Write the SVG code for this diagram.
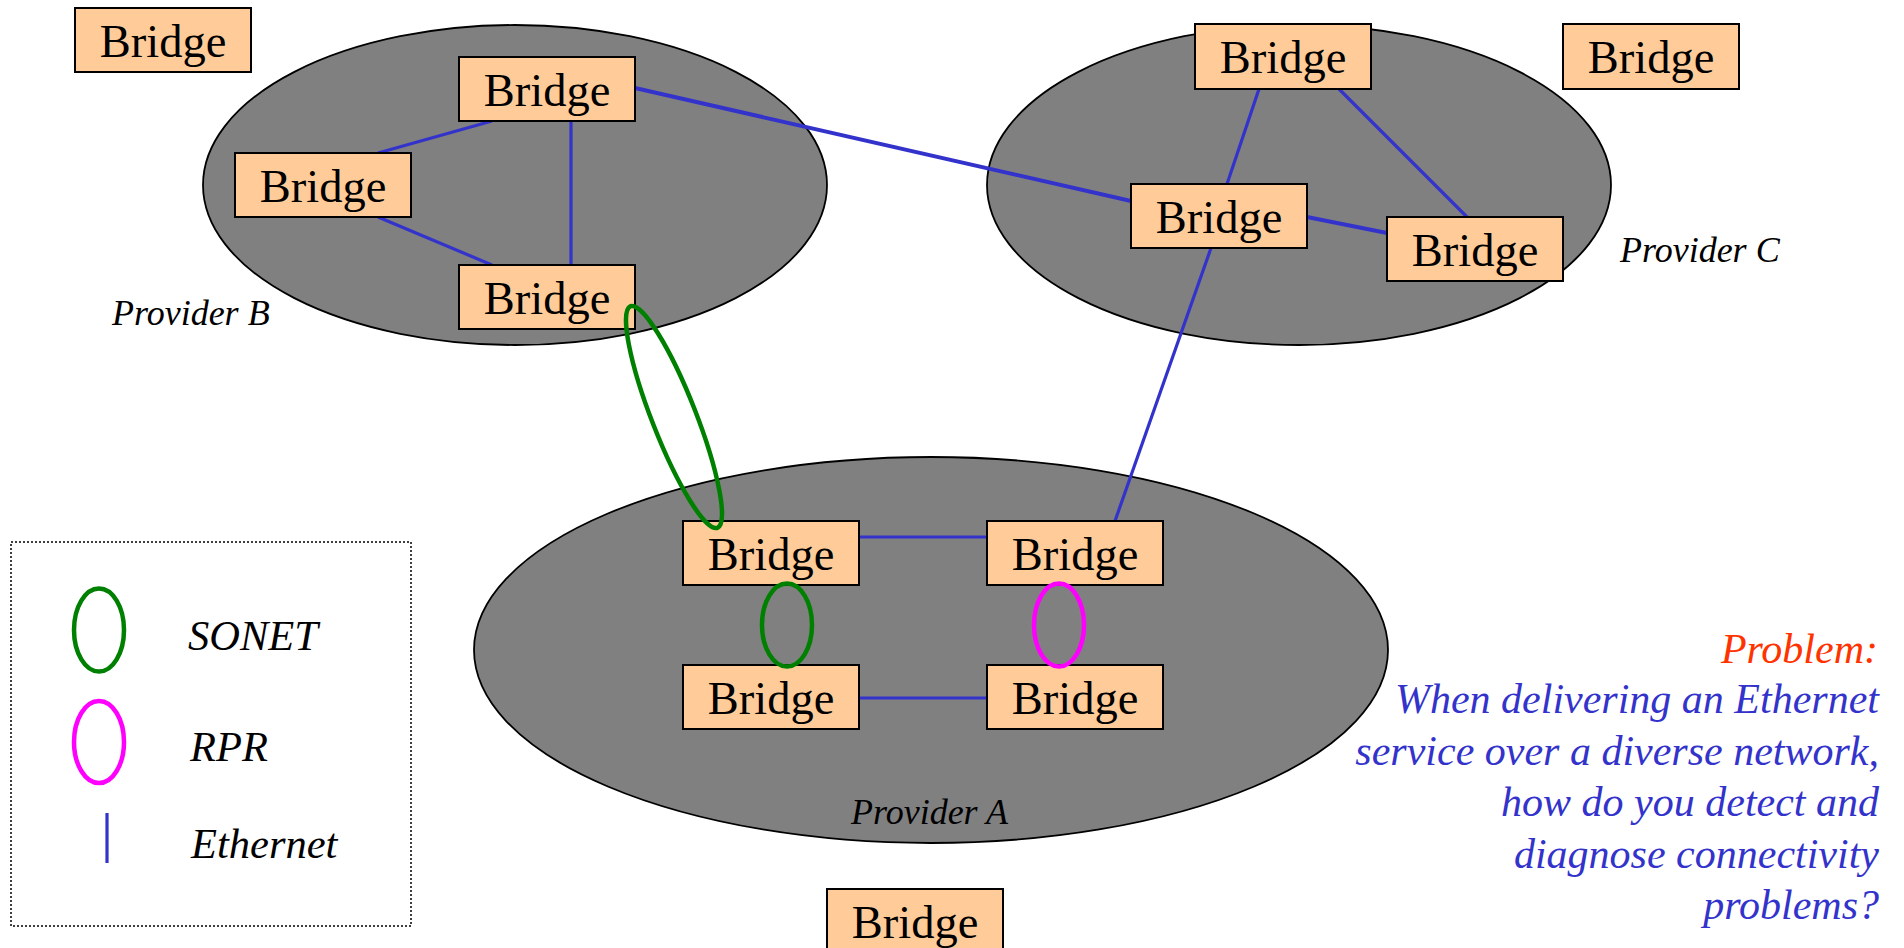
<svg xmlns="http://www.w3.org/2000/svg" width="1904" height="948" viewBox="0 0 1904 948">
<style>
.cloud{fill:#808080;stroke:#000;stroke-width:1.8}
.box{fill:#FFCC99;stroke:#000;stroke-width:2}
.bt{font-family:"Liberation Serif","Times New Roman",serif;font-size:46.5px;fill:#000;text-anchor:middle}
.plabel{font-family:"Liberation Serif","Times New Roman",serif;font-size:36px;font-style:italic;fill:#000}
.eth{stroke:#3333CC;stroke-width:3.2;fill:none}
.thick{stroke-width:4}
.sonet{stroke:#008000;stroke-width:4.5;fill:none}
.rpr{stroke:#FF00FF;stroke-width:4.5;fill:none}
.leg{font-family:"Liberation Serif","Times New Roman",serif;font-size:42.5px;font-style:italic;fill:#000}
.prob{font-family:"Liberation Serif","Times New Roman",serif;font-size:42px;font-style:italic;text-anchor:end}
</style>
<rect width="1904" height="948" fill="#fff"/>
<g id="provider-b"><ellipse class="cloud" cx="515" cy="185" rx="312" ry="160"/><text class="plabel" x="112" y="325">Provider B</text></g>
<g id="provider-c"><ellipse class="cloud" cx="1299" cy="185" rx="312" ry="160"/><text class="plabel" x="1620" y="262">Provider C</text></g>
<g id="provider-a"><ellipse class="cloud" cx="931" cy="650" rx="457" ry="193"/><text class="plabel" x="851" y="824">Provider A</text></g>
<g id="connectors">
<line class="eth thick" x1="635" y1="88" x2="1131" y2="201"/>
<line class="eth" x1="492" y1="121" x2="378" y2="153"/>
<line class="eth" x1="378" y1="217" x2="492" y2="265"/>
<line class="eth" x1="571" y1="121" x2="571" y2="265"/>
<line class="eth" x1="1259" y1="89" x2="1227" y2="184"/>
<line class="eth" x1="1339" y1="89" x2="1467" y2="217"/>
<line class="eth thick" x1="1307" y1="217" x2="1387" y2="233"/>
<line class="eth" x1="1211" y1="248" x2="1115" y2="521"/>
<line class="eth" x1="859" y1="537" x2="987" y2="537"/>
<line class="eth" x1="859" y1="698" x2="987" y2="698"/>
</g>
<g id="bridge-tl"><rect class="box" x="75" y="8" width="176" height="64"/><text class="bt" x="163" y="57">Bridge</text></g>
<g id="bridge-b1"><rect class="box" x="459" y="57" width="176" height="64"/><text class="bt" x="547" y="106">Bridge</text></g>
<g id="bridge-b2"><rect class="box" x="235" y="153" width="176" height="64"/><text class="bt" x="323" y="202">Bridge</text></g>
<g id="bridge-b3"><rect class="box" x="459" y="265" width="176" height="64"/><text class="bt" x="547" y="314">Bridge</text></g>
<g id="bridge-c1"><rect class="box" x="1195" y="24" width="176" height="65"/><text class="bt" x="1283" y="73">Bridge</text></g>
<g id="bridge-tr"><rect class="box" x="1563" y="24" width="176" height="65"/><text class="bt" x="1651" y="73">Bridge</text></g>
<g id="bridge-c2"><rect class="box" x="1131" y="184" width="176" height="64"/><text class="bt" x="1219" y="233">Bridge</text></g>
<g id="bridge-c3"><rect class="box" x="1387" y="217" width="176" height="64"/><text class="bt" x="1475" y="266">Bridge</text></g>
<g id="bridge-a1"><rect class="box" x="683" y="521" width="176" height="64"/><text class="bt" x="771" y="570">Bridge</text></g>
<g id="bridge-a2"><rect class="box" x="987" y="521" width="176" height="64"/><text class="bt" x="1075" y="570">Bridge</text></g>
<g id="bridge-a3"><rect class="box" x="683" y="665" width="176" height="64"/><text class="bt" x="771" y="714">Bridge</text></g>
<g id="bridge-a4"><rect class="box" x="987" y="665" width="176" height="64"/><text class="bt" x="1075" y="714">Bridge</text></g>
<g id="bridge-bottom"><rect class="box" x="827" y="889" width="176" height="64"/><text class="bt" x="915" y="938">Bridge</text></g>
<g id="links">
<ellipse class="sonet" cx="674" cy="417" rx="119" ry="22" transform="rotate(68.6 674 417)"/>
<ellipse class="sonet" cx="787" cy="625" rx="25" ry="41.5"/>
<ellipse class="rpr" cx="1059" cy="625" rx="25" ry="41.5"/>
</g>
<g id="legend">
<rect x="11" y="542" width="400" height="384" fill="none" stroke="#000" stroke-width="1.5" stroke-dasharray="2 2"/>
<ellipse class="sonet" cx="99" cy="630" rx="25" ry="41.5"/>
<text class="leg" x="188" y="650">SONET</text>
<ellipse class="rpr" cx="99" cy="742" rx="25" ry="41"/>
<text class="leg" x="190" y="761">RPR</text>
<line class="eth" x1="107" y1="813" x2="107" y2="863"/>
<text class="leg" x="191" y="858">Ethernet</text>
</g>
<g id="problem">
<text class="prob" x="1878" y="663" fill="#FF3300">Problem:</text>
<text class="prob" x="1879" y="713" fill="#3333CC">When delivering an Ethernet</text>
<text class="prob" x="1879" y="765" fill="#3333CC">service over a diverse network,</text>
<text class="prob" x="1879" y="816" fill="#3333CC">how do you detect and</text>
<text class="prob" x="1879" y="868" fill="#3333CC">diagnose connectivity</text>
<text class="prob" x="1879" y="919" fill="#3333CC">problems?</text>
</g>
</svg>
